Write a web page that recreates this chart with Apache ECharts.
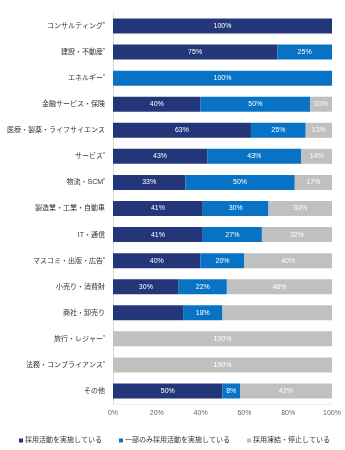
<!DOCTYPE html>
<html><head><meta charset="utf-8">
<script src="https://cdn.jsdelivr.net/npm/echarts@6/dist/echarts.min.js"></script>
<style>html,body{margin:0;padding:0;background:#fff}#c{width:345px;height:450px}</style>
</head><body><div id="c"></div>
<script>
const categories = ['コンサルティング*','建設・不動産*','エネルギー*','金融サービス・保険','医療・製薬・ライフサイエンス','サービス*','物流・SCM*','製造業・工業・自動車','IT・通信','マスコミ・出版・広告*','小売り・消費財','商社・卸売り','旅行・レジャー*','法務・コンプライアンス*','その他'];
const seriesNames = ['採用活動を実施している','一部のみ採用活動を実施している','採用凍結・停止している'];
const active = [100,75,0,40,63,43,33,41,41,40,30,32,0,0,50];
const partial = [0,25,100,50,25,43,50,30,27,20,22,18,0,0,8];
const frozen = [0,0,0,10,13,14,17,30,32,40,48,50,100,100,42];
// labels hidden in the reference for these cells (category index per series)
const hiddenLabels = [[11],[],[11]];
const xTicks = [0,20,40,60,80,100];
const colors = ['#24367a','#0873c4','#c0c0c0'];

function mk(vals, si){
  return vals.map((v,i)=>({value:v, label:{show: v>0 && hiddenLabels[si].indexOf(i)<0}}));
}
const chart = echarts.init(document.getElementById('c'), null, {renderer:'canvas'});
const font = 'Arial, "Noto Sans CJK JP", sans-serif';
chart.setOption({
  animation:false,
  textStyle:{fontFamily:font},
  grid:{left:113, right:13, top:13, bottom:46, containLabel:false},
  xAxis:{type:'value', min:xTicks[0], max:xTicks[xTicks.length-1], interval:20,
    axisLine:{show:true, lineStyle:{color:'#eeeeee'}}, axisTick:{show:false}, splitLine:{show:false},
    axisLabel:{formatter:'{value}%', color:'#666', fontSize:7, margin:6, fontFamily:font}},
  yAxis:{type:'category', data:categories, inverse:true,
    axisLine:{show:true, lineStyle:{color:'#d9d9d9'}}, axisTick:{show:false},
    axisLabel:{color:'#333', fontSize:7, margin:8, fontFamily:font,
      formatter:function(v){ if(v.endsWith('*')) return v.slice(0,-1)+'{s|*}'; return v; },
      rich:{s:{fontSize:5, verticalAlign:'top', color:'#333', padding:[0,0,3,0]}}}},
  legend:{top:432, left:14, width:331, itemWidth:4, itemHeight:4, itemGap:17, icon:'rect',
    textStyle:{fontSize:7, color:'#333', fontFamily:font, padding:[0,0,0,-3]}},
  series:[active,partial,frozen].map((d,si)=>({
    name:seriesNames[si], type:'bar', stack:'a', data:mk(d,si), barWidth:15,
    itemStyle:{color:colors[si]},
    label:{position:'inside', formatter:'{c}%', color:'#fff', fontSize:7, fontFamily:font}
  }))
});
</script></body></html>
